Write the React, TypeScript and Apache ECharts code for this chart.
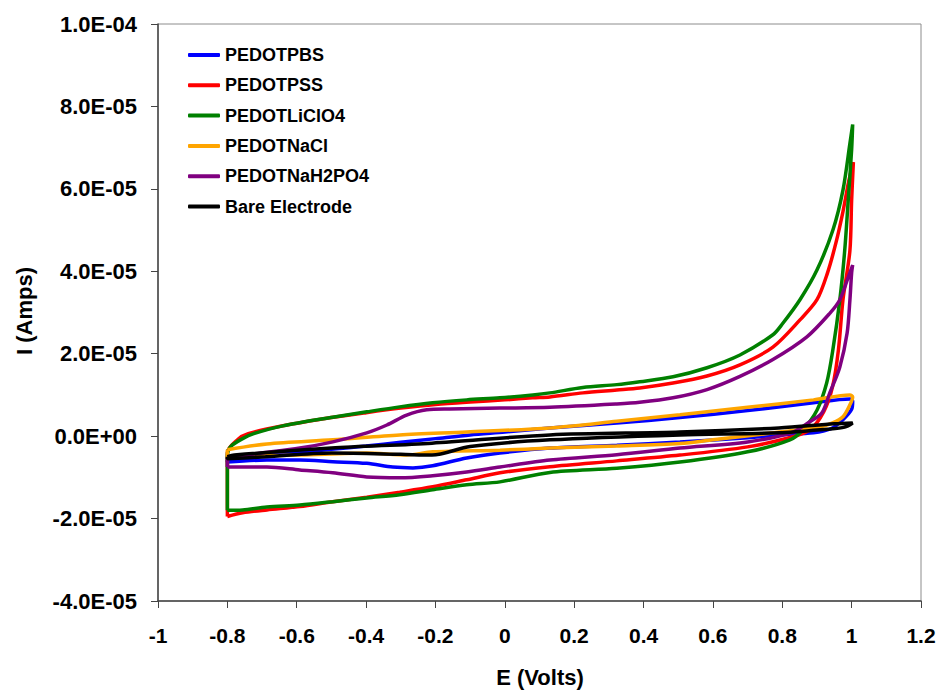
import React, { useEffect, useRef } from "react";
import * as echarts from "echarts";

// Potential E (V) and current I (in units of 1E-05 A), one closed CV loop per electrolyte
const seriesNames = ["PEDOTPBS", "PEDOTPSS", "PEDOTLiClO4", "PEDOTNaCl", "PEDOTNaH2PO4", "Bare Electrode"];
const seriesColors = ["#0000FF", "#FF0000", "#008000", "#FFA500", "#800080", "#000000"];

const pbsE = [-0.8, -0.7, -0.6, -0.5, -0.4, -0.3, -0.2, -0.1, 0.0, 0.13, 0.323, 0.505, 0.7, 0.89, 0.995, 1.003,
  1.0, 0.975, 0.94, 0.89, 0.79, 0.7, 0.505, 0.323, 0.13, -0.014, -0.11, -0.208, -0.265, -0.323, -0.398, -0.496, -0.591, -0.686, -0.8, -0.8];
const pbsI = [-0.58, -0.48, -0.4, -0.32, -0.24, -0.15, -0.06, 0.03, 0.1, 0.2, 0.32, 0.45, 0.62, 0.81, 0.9, 0.85,
  0.65, 0.4, 0.18, 0.08, 0.03, -0.04, -0.14, -0.22, -0.29, -0.41, -0.53, -0.72, -0.77, -0.75, -0.66, -0.62, -0.58, -0.58, -0.63, -0.58];

const pssE = [-0.8, -0.8, -0.77, -0.74, -0.64, -0.5, -0.4, -0.3, -0.2, -0.1, 0.0, 0.08, 0.13, 0.225, 0.323, 0.389, 0.485, 0.583, 0.678, 0.773, 0.851, 0.9, 0.93, 0.955, 0.975, 0.992, 1.005,
  1.0, 0.995, 0.975, 0.962, 0.945, 0.92, 0.88, 0.82, 0.7, 0.505, 0.323, 0.13, -0.014, -0.11, -0.208, -0.303, -0.398, -0.496, -0.591, -0.686, -0.756, -0.8];
const pssI = [-1.95, -0.4, -0.08, 0.06, 0.25, 0.45, 0.57, 0.68, 0.77, 0.83, 0.88, 0.93, 0.95, 1.05, 1.12, 1.17, 1.29, 1.46, 1.73, 2.16, 2.82, 3.31, 3.95, 4.7, 5.45, 6.2, 6.65,
  5.73, 4.5, 3.31, 2.1, 1.2, 0.6, 0.15, -0.04, -0.26, -0.46, -0.6, -0.74, -0.89, -1.06, -1.23, -1.36, -1.48, -1.59, -1.71, -1.79, -1.86, -1.95];

const liclo4E = [-0.8, -0.8, -0.79, -0.756, -0.724, -0.64, -0.496, -0.398, -0.303, -0.208, -0.11, -0.014, 0.081, 0.13, 0.225, 0.323, 0.389, 0.485, 0.583, 0.678, 0.773, 0.8, 0.851, 0.9, 0.946, 0.975, 0.995, 1.003,
  1.0, 0.99, 0.98, 0.966, 0.946, 0.928, 0.9, 0.859, 0.822, 0.7, 0.505, 0.323, 0.13, -0.014, -0.11, -0.208, -0.303, -0.398, -0.496, -0.591, -0.686, -0.756, -0.8];
const liclo4I = [-1.8, -0.45, -0.25, -0.06, 0.06, 0.25, 0.46, 0.59, 0.71, 0.81, 0.88, 0.93, 1.0, 1.05, 1.18, 1.25, 1.32, 1.44, 1.66, 1.97, 2.46, 2.72, 3.31, 4.03, 5.0, 5.97, 7.1, 7.56,
  6.95, 5.7, 4.5, 3.31, 2.1, 1.29, 0.63, 0.15, -0.09, -0.38, -0.63, -0.78, -0.88, -1.11, -1.18, -1.3, -1.42, -1.5, -1.59, -1.67, -1.72, -1.79, -1.8];

const naclE = [-0.8, -0.686, -0.496, -0.303, -0.11, 0.13, 0.323, 0.505, 0.7, 0.89, 0.995, 1.003,
  0.995, 0.975, 0.945, 0.908, 0.793, 0.6, 0.505, 0.323, 0.13, -0.014, -0.208, -0.283, -0.398, -0.591, -0.736, -0.8, -0.8];
const naclI = [-0.33, -0.19, -0.09, 0.03, 0.1, 0.2, 0.36, 0.52, 0.7, 0.88, 1.0, 0.95,
  0.76, 0.47, 0.32, 0.22, 0.1, -0.09, -0.18, -0.24, -0.29, -0.34, -0.38, -0.46, -0.41, -0.46, -0.48, -0.51, -0.33];

const nah2po4E = [-0.8, -0.8, -0.736, -0.591, -0.496, -0.398, -0.34, -0.283, -0.225, -0.159, -0.014, 0.13, 0.323, 0.389, 0.485, 0.583, 0.678, 0.773, 0.871, 0.937, 0.966, 0.99, 1.003,
  1.0, 0.995, 0.987, 0.966, 0.937, 0.914, 0.874, 0.825, 0.7, 0.505, 0.323, 0.13, -0.014, -0.11, -0.208, -0.303, -0.398, -0.496, -0.591, -0.686, -0.756, -0.8];
const nah2po4I = [-0.75, -0.55, -0.45, -0.29, -0.14, 0.08, 0.27, 0.51, 0.64, 0.66, 0.68, 0.7, 0.78, 0.82, 0.93, 1.13, 1.45, 1.86, 2.41, 2.98, 3.31, 3.85, 4.15,
  3.96, 3.3, 2.5, 1.68, 1.05, 0.56, 0.32, 0.08, -0.14, -0.29, -0.45, -0.58, -0.75, -0.87, -0.96, -1.01, -0.99, -0.89, -0.82, -0.75, -0.75, -0.75];

const bareE = [-0.8, -0.78, -0.5, -0.21, 0.13, 0.505, 0.79, 0.95, 1.003,
  0.98, 0.93, 0.79, 0.505, 0.13, -0.1, -0.21, -0.3, -0.5, -0.69, -0.8, -0.8];
const bareI = [-0.5, -0.46, -0.29, -0.17, 0.03, 0.1, 0.2, 0.3, 0.32,
  0.22, 0.17, 0.08, 0.03, -0.09, -0.25, -0.46, -0.44, -0.41, -0.5, -0.55, -0.5];

const allE = [pbsE, pssE, liclo4E, naclE, nah2po4E, bareE];
const allI = [pbsI, pssI, liclo4I, naclI, nah2po4I, bareI];

const xTicks = { min: -1, max: 1.2, interval: 0.2 };
const yTicks = { min: -4, max: 10, interval: 2 }; // in 1E-05 A

const FONT = "'Liberation Sans', Arial, sans-serif";

function fmtSci(v: number): string {
  if (Math.abs(v) < 1e-9) return "0.0E+00";
  const s = (v * 1e-5).toExponential(1);
  const [m, e] = s.split("e");
  const en = parseInt(e, 10);
  return m + "E" + (en < 0 ? "-" : "+") + String(Math.abs(en)).padStart(2, "0");
}

export default function App() {
  const ref = useRef<HTMLDivElement>(null);
  useEffect(() => {
    if (!ref.current) return;
    const chart = echarts.init(ref.current, null, { renderer: "svg" });
    const series = seriesNames.map((name, k) => ({
      name,
      type: "line",
      data: allE[k].map((e, i) => [e, allI[k][i]]),
      showSymbol: false,
      smooth: 0.3,
      lineStyle: { width: 3.5, color: seriesColors[k] },
      itemStyle: { color: seriesColors[k] },
      z: 2 + k,
    }));
    chart.setOption({
      animation: false,
      backgroundColor: "#ffffff",
      grid: {
        left: 158,
        right: 22,
        top: 24,
        bottom: 91,
        show: true,
        borderColor: "#8c8c8c",
        borderWidth: 1,
        backgroundColor: "transparent",
      },
      legend: {
        orient: "vertical",
        left: 183,
        top: 40,
        itemWidth: 32,
        itemHeight: 4,
        itemGap: 10.3,
        icon: "roundRect",
        data: seriesNames,
        textStyle: { fontFamily: FONT, fontWeight: "bold", fontSize: 18, color: "#000", lineHeight: 20 },
      },
      xAxis: {
        type: "value",
        min: xTicks.min,
        max: xTicks.max,
        interval: xTicks.interval,
        axisLine: { show: true, onZero: false, lineStyle: { color: "#444", width: 1.5 } },
        axisTick: { show: true, length: 7, inside: false, lineStyle: { color: "#444" } },
        splitLine: { show: false },
        axisLabel: {
          margin: 24,
          fontFamily: FONT,
          fontWeight: "bold",
          fontSize: 21,
          color: "#000",
          formatter: (v: number) => String(parseFloat(v.toFixed(1))),
        },
      },
      yAxis: {
        type: "value",
        min: yTicks.min,
        max: yTicks.max,
        interval: yTicks.interval,
        axisLine: { show: true, onZero: false, lineStyle: { color: "#444", width: 1.5 } },
        axisTick: { show: true, length: 7, inside: false, lineStyle: { color: "#444" } },
        splitLine: { show: false },
        axisLabel: {
          margin: 21,
          fontFamily: FONT,
          fontWeight: "bold",
          fontSize: 22,
          color: "#000",
          formatter: (v: number) => fmtSci(v),
        },
      },
      graphic: [
        {
          type: "text",
          x: 540,
          y: 677,
          style: {
            text: "E (Volts)",
            fontFamily: FONT,
            fontWeight: "bold",
            fontSize: 22,
            fill: "#000",
            textAlign: "center",
            textVerticalAlign: "middle",
          },
        },
        {
          type: "text",
          x: 24,
          y: 311,
          rotation: Math.PI / 2,
          style: {
            text: "I (Amps)",
            fontFamily: FONT,
            fontWeight: "bold",
            fontSize: 22,
            fill: "#000",
            textAlign: "center",
            textVerticalAlign: "middle",
          },
        },
      ],
      series,
    });
    return () => chart.dispose();
  }, []);
  return (
    <div
      ref={ref}
      style={{ position: "absolute", left: 0, top: 0, width: 943, height: 692, background: "#fff" }}
    />
  );
}
